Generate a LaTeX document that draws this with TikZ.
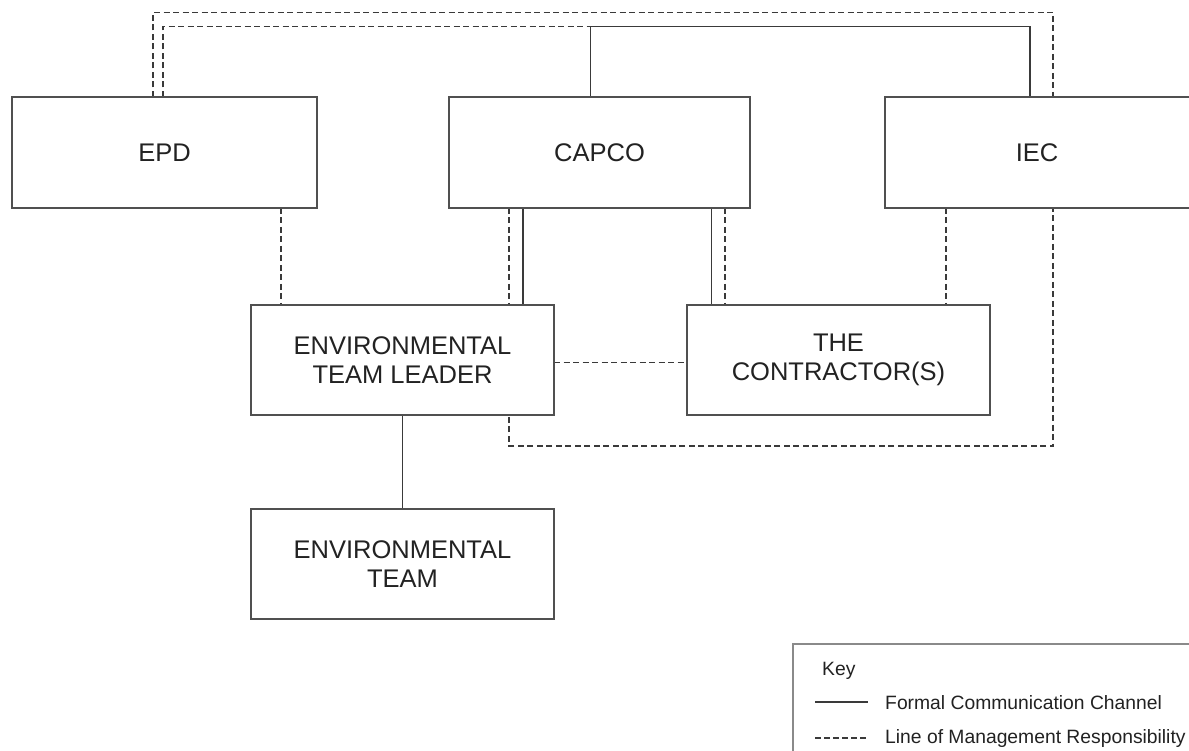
\documentclass[tikz,border=0pt]{standalone}
\usepackage{fontspec}
\setmainfont{Liberation Sans}
\definecolor{boxcol}{HTML}{505050}
\definecolor{linecol}{HTML}{3A3A3A}
\definecolor{txtcol}{HTML}{222222}
\definecolor{keycol}{HTML}{8A8A8A}
\pgfdeclarelayer{bg}
\pgfsetlayers{bg,main}
\begin{document}
\begin{tikzpicture}[x=1pt,y=-1pt,
  box/.style={draw=boxcol, line width=1.3pt, fill=white, inner sep=0pt, outer sep=0pt,
              minimum height=110pt, align=center, text=txtcol,
              font=\fontsize{25.5}{28.5}\selectfont},
  lbl/.style={inner sep=0pt, text=txtcol, font=\fontsize{25.5}{28.5}\selectfont},
  keytxt/.style={inner sep=0pt, anchor=west, text=txtcol, font=\fontsize{19.3}{22}\selectfont},
  formal/.style={draw=linecol, line width=1.2pt},
  mgmt/.style={draw=linecol, line width=1.2pt, dash pattern=on 6pt off 3.5pt}]
\useasboundingbox (0,0) rectangle (1189,751);

% boxes
\node[box, minimum width=305pt, minimum height=111pt] (EPD) at (164.5,152.5) {EPD};
\node[box, minimum width=301pt, minimum height=111pt] (CAPCO) at (599.5,152.5) {CAPCO};
\node[box, minimum width=330pt, minimum height=111pt] (IEC) at (1050,152.5) {};
\node[lbl] (IECtext) at (1037,152.5) {IEC};
\node[box, minimum width=303pt] (ETL) at (402.5,360) {ENVIRONMENTAL\\TEAM LEADER};
\node[box, minimum width=303pt] (CON) at (838.5,360) {THE\\CONTRACTOR(S)};
\node[box, minimum width=303pt] (ET) at (402.5,564) {ENVIRONMENTAL\\TEAM};

% key
\node[draw=keycol, line width=1.2pt, fill=white, minimum width=420pt, minimum height=130pt,
      inner sep=0pt, outer sep=0pt] (KEY) at (1003,709) {};
\node[keytxt] (keylabel) at (822,671) {Key};
\coordinate (k1a) at (815,702);
\coordinate (k1b) at (868,702);
\coordinate (k2a) at (815,738);
\coordinate (k2b) at (868,738);
\draw[formal] (k1a) -- (k1b);
\draw[mgmt, dash pattern=on 6pt off 3pt] (k2a) -- (k2b);
\node[keytxt] (keyformal) at (885,703) {Formal Communication Channel};
\node[keytxt] (keymgmt) at (885,739) {Line of Management Responsibility};

% helper coordinates
\coordinate (oa) at (153,12.5);
\coordinate (ob) at (1053,12.5);
\coordinate (oc) at (1053,446);
\coordinate (od) at (509,446);
\coordinate (ia) at (163,26.5);
\coordinate (ib) at (590.5,26.5);
\coordinate (ic) at (1030,26.5);
\coordinate (v1) at (281,0);
\coordinate (v2) at (509,0);
\coordinate (v3) at (523,0);
\coordinate (v4) at (711.5,0);
\coordinate (v5) at (725,0);
\coordinate (v6) at (946,0);
\coordinate (h1) at (0,362.5);

\begin{pgfonlayer}{bg}
  \fill[white] (0,0) rectangle (1189,751);
  % outer management loop EPD -> ETL
  \draw[mgmt] (EPD.north -| oa) -- (oa) -- (ob) -- (oc) -- (od) -- (ETL.south -| od);
  % inner lines
  \draw[mgmt] (EPD.north -| ia) -- (ia) -- (ib);
  \draw[formal] (CAPCO.north -| ib) -- (ib) -- (ic) -- (IEC.north -| ic);
  % verticals
  \draw[mgmt] (EPD.south -| v1) -- (ETL.north -| v1);
  \draw[mgmt] (CAPCO.south -| v2) -- (ETL.north -| v2);
  \draw[formal] (CAPCO.south -| v3) -- (ETL.north -| v3);
  \draw[formal] (CAPCO.south -| v4) -- (CON.north -| v4);
  \draw[mgmt] (CAPCO.south -| v5) -- (CON.north -| v5);
  \draw[mgmt] (IEC.south -| v6) -- (CON.north -| v6);
  \draw[mgmt] (ETL.east |- h1) -- (CON.west |- h1);
  \draw[formal] (ETL.south) -- (ET.north);
\end{pgfonlayer}
\end{tikzpicture}
\end{document}
